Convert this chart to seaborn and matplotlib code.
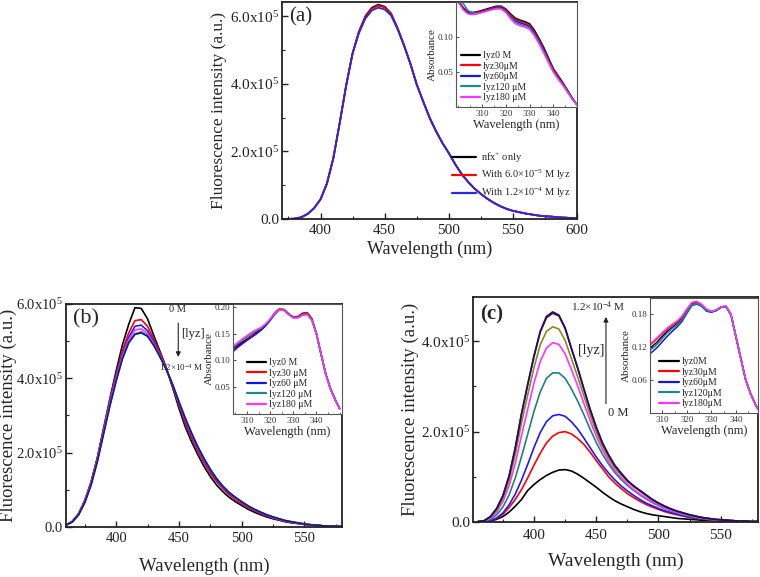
import matplotlib
matplotlib.use("Agg")
import matplotlib.pyplot as plt
import numpy as np
import pandas as pd
import seaborn as sns
from matplotlib.ticker import FuncFormatter, MultipleLocator

sns.set_theme(style="ticks")
plt.rcParams["font.family"] = ["Liberation Serif", "DejaVu Serif"]
plt.rcParams["mathtext.fontset"] = "custom"
plt.rcParams["mathtext.rm"] = "Liberation Serif"
plt.rcParams["mathtext.it"] = "Liberation Serif:italic"

# ---------------- panel (a): emission, values in 1e5 a.u. ----------------
wl_a = list(range(370, 605, 5))
a_nfx = [0.0, 0.0, 0.01, 0.05, 0.15, 0.32, 0.58, 1.05, 1.8, 2.85,
         3.95, 4.9, 5.55, 6.0, 6.25, 6.34, 6.28, 6.08, 5.65, 5.15,
         4.6, 3.98, 3.48, 3.0, 2.6, 2.25, 1.95, 1.62, 1.33, 1.1,
         0.9, 0.74, 0.6, 0.48, 0.38, 0.3, 0.24, 0.2, 0.16, 0.13,
         0.1, 0.08, 0.07, 0.05, 0.04, 0.03, 0.02]
a_lyz60 = [0.0, 0.0, 0.01, 0.05, 0.15, 0.32, 0.58, 1.05, 1.8, 2.85,
           3.95, 4.9, 5.55, 5.97, 6.22, 6.31, 6.26, 6.06, 5.65, 5.15,
           4.6, 3.98, 3.48, 3.0, 2.6, 2.25, 1.95, 1.62, 1.33, 1.1,
           0.9, 0.74, 0.6, 0.48, 0.38, 0.3, 0.24, 0.2, 0.16, 0.13,
           0.1, 0.08, 0.07, 0.05, 0.04, 0.03, 0.02]
a_lyz120 = [0.0, 0.0, 0.01, 0.05, 0.15, 0.32, 0.58, 1.05, 1.8, 2.85,
            3.95, 4.9, 5.5, 5.93, 6.17, 6.25, 6.2, 6.02, 5.62, 5.14,
            4.6, 3.98, 3.48, 3.0, 2.6, 2.25, 1.95, 1.62, 1.33, 1.1,
            0.9, 0.74, 0.6, 0.48, 0.38, 0.3, 0.24, 0.2, 0.16, 0.13,
            0.1, 0.08, 0.07, 0.05, 0.04, 0.03, 0.02]
a_labels = ["nfx$^{+}$ only", "With 6.0\u00d710$^{-5}$ M lyz", "With 1.2\u00d710$^{-4}$ M lyz"]
a_colors = ["#000000", "#ff0000", "#2a2ae0"]

# inset (a): absorbance
wl_ia = list(range(300, 352, 2))
ia_0 = [0.152, 0.142, 0.136, 0.135, 0.136, 0.138, 0.140, 0.142, 0.144, 0.144,
        0.140, 0.133, 0.127, 0.124, 0.122, 0.119, 0.110, 0.098, 0.085, 0.070,
        0.055, 0.045, 0.035, 0.024, 0.013, 0.003]
ia_30 = [0.150, 0.141, 0.135, 0.134, 0.135, 0.137, 0.139, 0.141, 0.143, 0.143,
         0.139, 0.131, 0.125, 0.122, 0.120, 0.117, 0.108, 0.096, 0.083, 0.068,
         0.054, 0.044, 0.034, 0.023, 0.012, 0.003]
ia_60 = [0.150, 0.140, 0.134, 0.133, 0.134, 0.136, 0.138, 0.140, 0.142, 0.142,
         0.137, 0.129, 0.123, 0.120, 0.118, 0.115, 0.106, 0.094, 0.081, 0.066,
         0.052, 0.042, 0.033, 0.022, 0.012, 0.003]
ia_120 = [0.160, 0.148, 0.138, 0.134, 0.134, 0.135, 0.137, 0.139, 0.141, 0.141,
          0.136, 0.128, 0.121, 0.118, 0.116, 0.113, 0.104, 0.092, 0.079, 0.065,
          0.051, 0.041, 0.032, 0.022, 0.011, 0.003]
ia_180 = [0.150, 0.139, 0.133, 0.132, 0.133, 0.135, 0.137, 0.139, 0.140, 0.140,
          0.135, 0.126, 0.119, 0.116, 0.114, 0.111, 0.102, 0.090, 0.077, 0.063,
          0.050, 0.040, 0.031, 0.021, 0.011, 0.003]
ia_labels = ["lyz0 M", "lyz30\u03bcM", "lyz60\u03bcM", "lyz120 \u03bcM", "lyz180 \u03bcM"]

abs_colors = ["#000000", "#ff0000", "#1515e0", "#1f8a8a", "#ff33ff"]

# ---------------- panel (b) ----------------
wl_b = list(range(360, 585, 5))
b_0 = [0.05, 0.15, 0.35, 0.7, 1.2, 1.85, 2.65, 3.45, 4.2, 4.9,
       5.45, 5.9, 5.88, 5.6, 5.15, 4.72, 4.28, 3.75, 3.2, 2.7,
       2.3, 1.95, 1.63, 1.36, 1.13, 0.95, 0.8, 0.68, 0.58, 0.48,
       0.4, 0.33, 0.27, 0.22, 0.18, 0.14, 0.11, 0.09, 0.07, 0.05,
       0.04, 0.03, 0.02, 0.02, 0.01]
b_30 = [0.05, 0.15, 0.36, 0.72, 1.22, 1.87, 2.65, 3.42, 4.12, 4.75,
        5.22, 5.55, 5.58, 5.4, 5.05, 4.68, 4.27, 3.78, 3.28, 2.8,
        2.4, 2.05, 1.73, 1.45, 1.22, 1.03, 0.87, 0.74, 0.63, 0.53,
        0.44, 0.36, 0.3, 0.24, 0.19, 0.15, 0.12, 0.1, 0.07, 0.05,
        0.04, 0.03, 0.02, 0.02, 0.01]
b_60 = [0.05, 0.14, 0.34, 0.69, 1.18, 1.83, 2.6, 3.36, 4.05, 4.65,
        5.1, 5.4, 5.43, 5.28, 4.98, 4.62, 4.25, 3.8, 3.32, 2.86,
        2.46, 2.1, 1.78, 1.5, 1.26, 1.06, 0.9, 0.77, 0.66, 0.55,
        0.46, 0.38, 0.31, 0.25, 0.2, 0.16, 0.13, 0.1, 0.08, 0.06,
        0.04, 0.03, 0.02, 0.02, 0.01]
b_90 = [0.05, 0.14, 0.34, 0.68, 1.17, 1.8, 2.56, 3.32, 4.0, 4.6,
        5.03, 5.3, 5.33, 5.2, 4.93, 4.6, 4.24, 3.82, 3.35, 2.9,
        2.5, 2.13, 1.81, 1.53, 1.29, 1.08, 0.92, 0.78, 0.67, 0.56,
        0.47, 0.39, 0.32, 0.26, 0.21, 0.17, 0.13, 0.1, 0.08, 0.06,
        0.04, 0.03, 0.02, 0.02, 0.01]
b_120 = [0.05, 0.14, 0.33, 0.67, 1.15, 1.78, 2.53, 3.28, 3.95, 4.55,
         4.97, 5.2, 5.25, 5.15, 4.9, 4.58, 4.24, 3.84, 3.38, 2.94,
         2.54, 2.17, 1.85, 1.56, 1.31, 1.1, 0.93, 0.8, 0.68, 0.57,
         0.48, 0.4, 0.33, 0.27, 0.22, 0.17, 0.14, 0.11, 0.08, 0.06,
         0.05, 0.03, 0.02, 0.02, 0.01]
b_180 = [0.05, 0.13, 0.32, 0.65, 1.12, 1.75, 2.5, 3.25, 3.92, 4.52,
         4.95, 5.18, 5.22, 5.13, 4.88, 4.57, 4.23, 3.83, 3.37, 2.93,
         2.53, 2.16, 1.84, 1.55, 1.3, 1.1, 0.93, 0.8, 0.68, 0.57,
         0.48, 0.4, 0.33, 0.27, 0.22, 0.17, 0.14, 0.11, 0.08, 0.06,
         0.05, 0.03, 0.02, 0.02, 0.01]
b_colors = ["#000000", "#ff0000", "#1a1aff", "#ff33ff", "#2f7f7f", "#1a1a80"]

# inset (b)
wl_ib = list(range(304, 352, 2))
ib_0 = [0.122, 0.128, 0.134, 0.140, 0.146, 0.152, 0.158, 0.166, 0.176, 0.188,
        0.195, 0.194, 0.186, 0.180, 0.181, 0.187, 0.189, 0.178, 0.150, 0.112,
        0.075, 0.048, 0.028, 0.010]
ib_30 = [0.116, 0.124, 0.131, 0.138, 0.145, 0.150, 0.156, 0.165, 0.176, 0.189,
         0.196, 0.195, 0.187, 0.181, 0.182, 0.188, 0.189, 0.177, 0.149, 0.111,
         0.074, 0.047, 0.027, 0.010]
ib_60 = [0.118, 0.125, 0.131, 0.137, 0.143, 0.149, 0.156, 0.164, 0.174, 0.186,
         0.194, 0.194, 0.186, 0.180, 0.180, 0.185, 0.186, 0.175, 0.148, 0.110,
         0.074, 0.047, 0.027, 0.010]
ib_120 = [0.124, 0.131, 0.138, 0.144, 0.150, 0.155, 0.160, 0.167, 0.176, 0.188,
          0.195, 0.194, 0.186, 0.180, 0.180, 0.185, 0.187, 0.176, 0.149, 0.111,
          0.074, 0.047, 0.027, 0.010]
ib_180 = [0.126, 0.133, 0.140, 0.146, 0.152, 0.157, 0.161, 0.168, 0.177, 0.188,
          0.194, 0.193, 0.185, 0.179, 0.179, 0.184, 0.185, 0.175, 0.149, 0.111,
          0.074, 0.047, 0.027, 0.010]
ib_labels = ["lyz0 M", "lyz30 \u03bcM", "lyz60 \u03bcM", "lyz120 \u03bcM", "lyz180 \u03bcM"]

# ---------------- panel (c) ----------------
wl_c = list(range(355, 585, 5))
c_0 = [0.0, 0.0, 0.02, 0.06, 0.12, 0.22, 0.35, 0.5, 0.7, 0.83,
       0.94, 1.03, 1.1, 1.15, 1.16, 1.13, 1.06, 0.97, 0.87, 0.77,
       0.66, 0.56, 0.47, 0.4, 0.34, 0.28, 0.23, 0.19, 0.16, 0.14,
       0.12, 0.1, 0.08, 0.07, 0.06, 0.05, 0.04, 0.04, 0.03, 0.02,
       0.02, 0.01, 0.01, 0.01, 0.0, 0.0]
c_1 = [0.0, 0.01, 0.03, 0.08, 0.17, 0.32, 0.5, 0.72, 0.98, 1.26,
       1.52, 1.75, 1.9, 1.98, 2.0, 1.95, 1.85, 1.72, 1.55, 1.36,
       1.18, 1.0, 0.86, 0.74, 0.63, 0.54, 0.46, 0.39, 0.33, 0.28,
       0.23, 0.19, 0.16, 0.13, 0.1, 0.08, 0.07, 0.05, 0.04, 0.03,
       0.03, 0.02, 0.02, 0.01, 0.01, 0.01]
c_2 = [0.0, 0.01, 0.03, 0.09, 0.2, 0.38, 0.62, 0.93, 1.28, 1.65,
       1.98, 2.22, 2.35, 2.38, 2.34, 2.22, 2.06, 1.86, 1.65, 1.44,
       1.25, 1.08, 0.93, 0.8, 0.69, 0.59, 0.5, 0.42, 0.36, 0.3,
       0.25, 0.21, 0.17, 0.14, 0.11, 0.09, 0.07, 0.06, 0.05, 0.04,
       0.03, 0.02, 0.02, 0.01, 0.01, 0.01]
c_3 = [0.01, 0.02, 0.06, 0.16, 0.33, 0.6, 0.98, 1.45, 1.95, 2.45,
       2.88, 3.18, 3.3, 3.3, 3.18, 2.95, 2.68, 2.38, 2.06, 1.76,
       1.5, 1.28, 1.09, 0.94, 0.81, 0.7, 0.6, 0.51, 0.43, 0.36,
       0.3, 0.25, 0.2, 0.16, 0.13, 0.1, 0.08, 0.06, 0.05, 0.04,
       0.03, 0.02, 0.02, 0.01, 0.01, 0.01]
c_4 = [0.01, 0.02, 0.08, 0.22, 0.45, 0.8, 1.3, 1.92, 2.5, 3.08,
       3.55, 3.85, 3.97, 3.93, 3.72, 3.38, 3.02, 2.63, 2.25, 1.9,
       1.6, 1.35, 1.14, 0.98, 0.84, 0.72, 0.62, 0.53, 0.45, 0.38,
       0.31, 0.26, 0.21, 0.17, 0.14, 0.11, 0.09, 0.07, 0.05, 0.04,
       0.03, 0.03, 0.02, 0.01, 0.01, 0.01]
c_5 = [0.01, 0.03, 0.1, 0.26, 0.52, 0.92, 1.5, 2.2, 2.82, 3.42,
       3.92, 4.22, 4.32, 4.27, 4.02, 3.62, 3.22, 2.8, 2.38, 2.0,
       1.68, 1.42, 1.2, 1.04, 0.9, 0.78, 0.68, 0.58, 0.49, 0.41,
       0.34, 0.28, 0.23, 0.19, 0.15, 0.12, 0.1, 0.08, 0.06, 0.05,
       0.04, 0.03, 0.02, 0.02, 0.01, 0.01]
c_6 = [0.01, 0.03, 0.12, 0.3, 0.58, 1.02, 1.65, 2.4, 3.05, 3.66,
       4.2, 4.52, 4.62, 4.56, 4.28, 3.84, 3.41, 2.95, 2.5, 2.1,
       1.75, 1.48, 1.25, 1.08, 0.92, 0.8, 0.7, 0.6, 0.5, 0.42,
       0.35, 0.29, 0.24, 0.2, 0.16, 0.13, 0.1, 0.08, 0.06, 0.05,
       0.04, 0.03, 0.02, 0.02, 0.01, 0.01]
c_7 = [0.01, 0.03, 0.12, 0.3, 0.58, 1.02, 1.65, 2.4, 3.05, 3.68,
       4.22, 4.55, 4.65, 4.58, 4.3, 3.85, 3.42, 2.95, 2.5, 2.1,
       1.75, 1.48, 1.25, 1.08, 0.92, 0.8, 0.7, 0.6, 0.5, 0.42,
       0.35, 0.29, 0.24, 0.2, 0.16, 0.13, 0.1, 0.08, 0.06, 0.05,
       0.04, 0.03, 0.02, 0.02, 0.01, 0.01]
c_colors = ["#000000", "#ff0000", "#1a1aff", "#1f8080", "#ff33ff",
            "#8a8a1a", "#7a0a1a", "#1a1070"]

# inset (c)
wl_ic = list(range(304, 352, 2))
ic_0 = [0.115, 0.122, 0.130, 0.140, 0.149, 0.156, 0.163, 0.172, 0.185, 0.198,
        0.200, 0.196, 0.187, 0.185, 0.188, 0.194, 0.195, 0.180, 0.140, 0.100,
        0.060, 0.035, 0.015, 0.000]
ic_30 = [0.120, 0.128, 0.136, 0.145, 0.153, 0.160, 0.166, 0.175, 0.188, 0.200,
         0.202, 0.197, 0.188, 0.185, 0.187, 0.193, 0.194, 0.179, 0.139, 0.099,
         0.060, 0.035, 0.015, 0.000]
ic_60 = [0.105, 0.112, 0.120, 0.130, 0.140, 0.149, 0.157, 0.167, 0.182, 0.196,
         0.199, 0.195, 0.186, 0.184, 0.187, 0.193, 0.194, 0.179, 0.139, 0.099,
         0.060, 0.035, 0.015, 0.000]
ic_120 = [0.112, 0.118, 0.126, 0.136, 0.146, 0.154, 0.161, 0.170, 0.184, 0.197,
          0.200, 0.196, 0.187, 0.185, 0.187, 0.193, 0.194, 0.179, 0.139, 0.099,
          0.060, 0.035, 0.015, 0.000]
ic_180 = [0.122, 0.130, 0.138, 0.147, 0.155, 0.162, 0.168, 0.177, 0.190, 0.202,
          0.204, 0.199, 0.190, 0.186, 0.188, 0.194, 0.195, 0.180, 0.140, 0.100,
          0.060, 0.035, 0.015, 0.000]
ic_labels = ["lyz0M", "lyz30\u03bcM", "lyz60\u03bcM", "lyz120\u03bcM", "lyz180\u03bcM"]


def long_df(wl, series, scale=1.0):
    """Stack several y-lists sharing one x-list into long form for seaborn."""
    parts = []
    for i, vals in enumerate(series):
        parts.append(pd.DataFrame({"wl": wl, "y": np.asarray(vals) * scale, "s": i}))
    return pd.concat(parts, ignore_index=True)


def draw(ax, wl, series, colors, scale=1.0, lw=1.2):
    df = long_df(wl, series, scale)
    sns.lineplot(data=df, x="wl", y="y", hue="s", palette=colors[:len(series)],
                 ax=ax, lw=lw, legend=False, estimator=None, sort=False)


def sci(v, pos):
    if abs(v) < 1:
        return "0.0"
    return r"$\mathregular{%.1fx10^{5}}$" % (v / 1e5)


def style_main(ax, xlim, ylim, ymax_tick, tick_fs, xlab_fs, ylab_fs, ylab_x, xlabpad):
    ax.set_xlim(*xlim)
    ax.set_ylim(*ylim)
    ax.xaxis.set_major_locator(MultipleLocator(50))
    ax.xaxis.set_minor_locator(MultipleLocator(25))
    ax.set_yticks(np.arange(0, ymax_tick + 1, 2e5))
    ax.yaxis.set_minor_locator(MultipleLocator(1e5))
    ax.yaxis.set_major_formatter(FuncFormatter(sci))
    ax.tick_params(which="both", direction="in", labelsize=tick_fs, colors="#222222")
    ax.tick_params(axis="y", pad=2)
    ax.tick_params(which="major", length=4, width=1)
    ax.tick_params(which="minor", length=2.5, width=0.8)
    for s in ax.spines.values():
        s.set_linewidth(1.3)
        s.set_color("#222222")
    ax.set_xlabel("Wavelength (nm)", fontsize=xlab_fs, labelpad=xlabpad)
    ax.set_ylabel("Fluorescence intensity (a.u.)", fontsize=ylab_fs)
    ax.yaxis.set_label_coords(ylab_x, 0.5)


def style_inset(ax, xlim, ylim, yticks, yfmt, legend_labels, legend_anchor):
    ax.set_xlim(*xlim)
    ax.set_ylim(*ylim)
    ax.set_xticks([310, 320, 330, 340])
    ax.xaxis.set_minor_locator(MultipleLocator(5))
    ax.set_yticks(yticks)
    ax.set_yticklabels([yfmt % t for t in yticks])
    ax.tick_params(which="both", direction="in", labelsize=6.5, pad=2, colors="#333333")
    ax.tick_params(which="major", length=2.5, width=0.6)
    ax.tick_params(which="minor", length=1.5, width=0.5)
    for s in ax.spines.values():
        s.set_linewidth(0.8)
        s.set_color("#555555")
    ax.set_xlabel("Wavelength (nm)", fontsize=9, labelpad=1)
    ax.set_ylabel("Absorbance", fontsize=8, labelpad=0.5)
    ax.legend(ax.lines[:5], legend_labels, loc="lower left", bbox_to_anchor=legend_anchor,
              frameon=False, fontsize=7, handlelength=2.0, handletextpad=0.3,
              labelspacing=0.15, borderaxespad=0.1)
    for h in ax.get_legend().get_lines():
        h.set_linewidth(1.6)


fig = plt.figure(figsize=(7.6, 5.77), dpi=100)

# ---- (a) ----
ax_a = fig.add_axes([0.3711, 0.6205, 0.3882, 0.3761])
draw(ax_a, wl_a, [a_nfx, a_lyz60, a_lyz120], a_colors, scale=1e5, lw=1.3)
style_main(ax_a, (370, 600), (0, 6.42e5), 6e5, 11, 13, 12.5, -0.186, 3)
ax_a.legend(ax_a.lines[:3], a_labels, loc="upper right", bbox_to_anchor=(1.0, 0.345),
            frameon=False, fontsize=7.5, handlelength=2.3, handletextpad=0.5,
            labelspacing=0.35, borderaxespad=0.2)
for h in ax_a.get_legend().get_lines():
    h.set_linewidth(1.6)
ax_a.text(0.025, 0.975, "(a)", transform=ax_a.transAxes, fontsize=15, va="top", ha="left")

ins_a = fig.add_axes([0.6, 0.8146, 0.1592, 0.182])
draw(ins_a, wl_ia, [ia_0, ia_30, ia_60, ia_120, ia_180], abs_colors, lw=1.1)
style_inset(ins_a, (299, 350), (0, 0.15), [0.05, 0.10], "%.2f", ia_labels, (0.0, 0.0))

# ---- (b) ----
ax_b = fig.add_axes([0.0868, 0.0867, 0.3632, 0.3865])
draw(ax_b, wl_b, [b_0, b_30, b_60, b_90, b_120, b_180], b_colors, scale=1e5, lw=1.2)
style_main(ax_b, (360, 580), (0, 6.0e5), 6e5, 10.5, 13.5, 13.5, -0.178, 9)
ax_b.text(0.025, 0.975, "(b)", transform=ax_b.transAxes, fontsize=16, va="top", ha="left")
ax_b.annotate("", xy=(449.5, 4.5e5), xytext=(449.5, 5.56e5),
              arrowprops=dict(arrowstyle="-|>", color="#222222", lw=0.8, mutation_scale=7))
ax_b.text(448.5, 5.72e5, "0 M", fontsize=7.5, ha="center", va="bottom")
ax_b.text(452, 5.2e5, "[lyz]", fontsize=9, ha="left", va="center")
ax_b.text(434, 4.3e5, "1.2\u00d710$^{-4}$ M", fontsize=6.5, ha="left", va="center")

ins_b = fig.add_axes([0.3066, 0.2825, 0.1434, 0.1906])
draw(ins_b, wl_ib, [ib_0, ib_30, ib_60, ib_120, ib_180], abs_colors, lw=1.1)
style_inset(ins_b, (304, 351), (0, 0.205), [0.05, 0.10, 0.15, 0.20], "%.2f", ib_labels, (0.08, 0.0))

# ---- (c) ----
ax_c = fig.add_axes([0.6224, 0.0953, 0.375, 0.39])
draw(ax_c, wl_c, [c_0, c_1, c_2, c_3, c_4, c_5, c_6, c_7], c_colors, scale=1e5, lw=1.2)
style_main(ax_c, (351, 580), (0, 4.98e5), 4e5, 11, 14, 13.5, -0.189, 8)
ax_c.tick_params(axis="x", pad=5)
ax_c.text(0.025, 0.965, "(c)", transform=ax_c.transAxes, fontsize=15, va="top", ha="left",
          fontweight="bold")
ax_c.annotate("", xy=(457.8, 4.6e5), xytext=(457.8, 2.56e5),
              arrowprops=dict(arrowstyle="-|>", color="#222222", lw=0.8, mutation_scale=7))
ax_c.text(430, 4.76e5, "1.2\u00d710$^{-4}$ M", fontsize=8, ha="left", va="center")
ax_c.text(456.5, 3.8e5, "[lyz]", fontsize=10, ha="right", va="center")
ax_c.text(459.5, 2.42e5, "0 M", fontsize=9, ha="left", va="center")

ins_c = fig.add_axes([0.8553, 0.2842, 0.1421, 0.1993])
draw(ins_c, wl_ic, [ic_0, ic_30, ic_60, ic_120, ic_180], abs_colors, lw=1.1)
style_inset(ins_c, (305, 349), (0, 0.21), [0.06, 0.12, 0.18], "%.2f", ic_labels, (0.04, 0.0))

fig.savefig("out.png", dpi=100)
